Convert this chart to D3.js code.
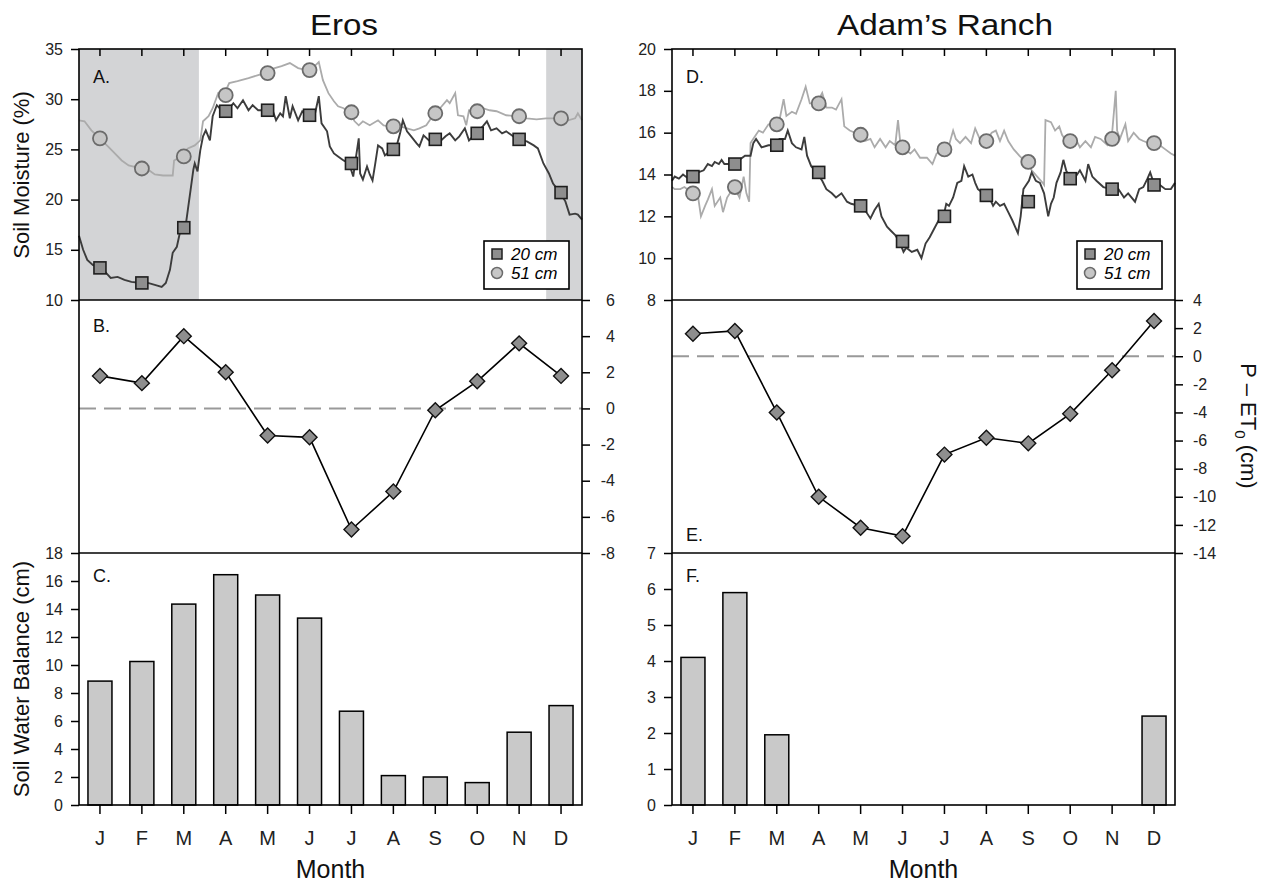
<!DOCTYPE html>
<html>
<head>
<meta charset="utf-8">
<script src="https://cdnjs.cloudflare.com/ajax/libs/d3/7.8.5/d3.min.js"></script>
<style>
  body { margin: 0; background: #fff; }
  svg { font-family: "Liberation Sans", Arial, sans-serif; }
</style>
</head>
<body>
<svg></svg>
<script>
// month labels
let months = ['J','F','M','A','M','J','J','A','S','O','N','D']

// soil moisture (%), [day of year, value]
let erosShallow = [[0,16.4],[3,15.0],[6,14.0],[10,13.5],[15,13.2],[19,12.8],[23,12.2],[28,12.3],[33,12.0],[38,11.8],[45,11.7],[50,11.7],[55,11.5],[60,11.3],[63,11.7],[66,13.0],[68,14.7],[71,15.3],[74,17.2],[77,17.0],[79,19.0],[81,21.0],[83,23.0],[84,23.6],[86,22.8],[88,24.9],[90,26.3],[92,26.9],[95,25.9],[97,28.3],[100,29.4],[104,28.8],[108,28.9],[112,29.6],[115,29.1],[119,29.9],[123,28.9],[126,29.4],[130,28.9],[135,28.9],[140,29.1],[143,27.9],[146,28.6],[148,28.3],[150,30.3],[153,28.1],[155,29.3],[159,27.9],[162,28.8],[165,28.4],[169,28.3],[171,28.4],[174,30.3],[176,27.6],[180,26.8],[182,25.3],[185,24.6],[188,24.3],[192,23.9],[196,23.6],[199,22.3],[200,23.3],[203,26.1],[204,22.6],[206,22.0],[209,23.3],[211,22.5],[213,21.9],[215,23.6],[217,25.4],[220,25.1],[222,24.4],[227,25.0],[231,25.6],[233,26.6],[235,27.9],[238,26.8],[241,26.3],[245,25.6],[247,25.3],[250,26.4],[254,25.9],[258,26.0],[262,25.8],[266,26.3],[269,26.6],[273,25.9],[276,26.3],[280,27.1],[283,25.9],[288,26.6],[293,27.3],[296,27.8],[299,26.9],[303,27.1],[307,26.6],[310,26.8],[314,26.4],[318,26.0],[325,25.8],[330,25.4],[333,25.1],[337,23.6],[341,22.6],[344,21.6],[349,20.7],[353,19.8],[356,18.5],[360,18.6],[362,18.5],[365,18.0]]
let erosDeep = [[0,27.9],[4,27.8],[9,26.9],[15,26.1],[21,25.3],[26,24.6],[31,23.9],[36,23.4],[45,23.1],[50,23.0],[55,22.5],[61,22.4],[68,22.4],[69,23.9],[74,24.3],[79,25.1],[84,25.4],[88,25.9],[90,27.8],[94,28.3],[97,29.1],[101,30.6],[105,30.4],[109,31.6],[115,31.8],[123,32.1],[130,32.4],[135,32.6],[142,33.1],[147,33.3],[153,33.6],[159,33.1],[165,32.9],[171,33.3],[174,33.7],[177,31.9],[181,30.6],[185,29.8],[188,29.3],[192,29.1],[196,28.7],[200,27.8],[203,27.4],[206,27.8],[211,27.4],[217,27.9],[221,27.4],[227,27.3],[233,27.3],[238,27.1],[243,26.9],[247,27.1],[252,27.4],[258,28.6],[262,29.1],[267,29.9],[269,29.6],[273,30.6],[275,28.4],[279,28.3],[281,27.4],[283,28.9],[288,28.8],[293,29.1],[298,28.9],[303,28.8],[310,28.4],[318,28.3],[325,28.1],[332,28.0],[339,28.1],[349,28.1],[355,27.9],[360,28.1],[362,28.6],[365,27.9]]
let adamsShallow = [[0,13.7],[2,13.9],[5,13.8],[8,14.0],[12,13.8],[15,13.9],[19,14.1],[23,14.2],[26,14.5],[29,14.4],[31,14.6],[34,14.5],[36,14.7],[38,14.5],[41,14.5],[45,14.5],[49,14.7],[53,14.9],[57,14.9],[59,15.5],[61,15.7],[65,15.3],[70,15.4],[75,15.4],[78,15.7],[82,15.7],[84,16.1],[87,15.5],[90,15.3],[94,15.2],[96,15.8],[98,14.9],[101,14.4],[105,14.1],[109,13.7],[112,13.3],[116,13.1],[119,12.9],[123,13.1],[127,12.7],[130,12.6],[136,12.5],[140,12.3],[144,11.9],[147,12.3],[150,12.6],[152,12.0],[156,11.5],[159,11.3],[162,11.1],[165,10.8],[168,10.3],[170,10.5],[174,10.3],[178,10.4],[181,10.0],[184,10.7],[187,11.0],[191,11.5],[195,12.0],[197,12.0],[199,12.6],[201,12.5],[204,12.9],[207,13.6],[210,13.7],[212,14.4],[215,13.9],[218,14.0],[220,13.6],[222,13.3],[228,13.0],[231,12.8],[233,12.5],[235,12.7],[238,12.5],[241,12.6],[244,12.2],[247,11.8],[249,11.5],[251,11.2],[253,12.0],[255,13.3],[256,13.4],[259,13.7],[261,14.1],[264,13.7],[267,13.6],[270,13.1],[273,12.0],[275,12.6],[277,12.9],[279,13.6],[282,14.1],[284,14.7],[286,14.2],[289,13.8],[293,13.9],[296,14.2],[300,13.7],[302,14.5],[305,13.9],[308,13.7],[313,13.4],[319,13.3],[324,13.3],[328,12.9],[331,13.1],[336,12.7],[339,13.3],[342,13.4],[345,13.8],[347,14.1],[350,13.5],[354,13.5],[358,13.3],[362,13.3],[365,13.6]]
let adamsDeep = [[0,13.4],[2,13.3],[6,13.3],[9,13.4],[15,13.1],[19,12.9],[21,12.0],[24,12.5],[26,12.8],[29,13.3],[31,12.5],[35,12.9],[37,12.2],[40,12.9],[45,13.4],[49,12.9],[52,13.9],[54,13.1],[56,12.7],[57,15.5],[60,15.8],[63,16.1],[66,16.0],[70,16.4],[75,16.4],[78,16.6],[81,17.6],[83,16.8],[87,17.0],[90,16.9],[94,17.6],[97,18.2],[100,17.4],[105,17.4],[109,17.9],[112,17.2],[116,17.2],[119,17.1],[123,17.6],[125,16.3],[129,16.1],[136,15.9],[140,15.6],[144,15.7],[147,15.3],[151,15.7],[155,15.3],[158,15.6],[162,15.4],[164,16.6],[166,15.3],[169,15.2],[173,15.0],[176,15.2],[180,14.8],[185,14.8],[189,14.5],[192,15.0],[197,15.2],[201,15.4],[204,16.1],[206,15.7],[209,15.5],[213,15.8],[217,15.5],[220,16.2],[224,15.6],[228,15.6],[232,16.0],[235,16.1],[238,15.6],[241,16.1],[244,15.6],[248,15.2],[252,14.9],[255,14.7],[258,14.6],[261,14.2],[265,13.9],[269,13.6],[270,13.5],[271,16.6],[275,16.5],[278,16.1],[281,16.3],[283,15.9],[285,15.7],[289,15.6],[293,15.7],[296,15.3],[300,15.6],[304,15.3],[307,15.8],[311,15.7],[316,15.4],[319,15.7],[322,18.0],[323,16.1],[325,15.7],[329,16.4],[331,15.6],[335,16.0],[339,15.7],[342,15.6],[346,15.5],[350,15.5],[354,15.4],[358,15.2],[362,15.0],[365,14.9]]

// monthly means shown as markers
let erosShallowMonthly = [13.2, 11.7, 17.2, 28.8, 28.9, 28.4, 23.6, 25.0, 26.0, 26.6, 26.0, 20.7]
let erosDeepMonthly = [26.1, 23.1, 24.3, 30.4, 32.6, 32.9, 28.7, 27.3, 28.6, 28.8, 28.3, 28.1]
let adamsShallowMonthly = [13.9, 14.5, 15.4, 14.1, 12.5, 10.8, 12.0, 13.0, 12.7, 13.8, 13.3, 13.5]
let adamsDeepMonthly = [13.1, 13.4, 16.4, 17.4, 15.9, 15.3, 15.2, 15.6, 14.6, 15.6, 15.7, 15.5]

// dormant period shading (day of year)
let erosDormant = [[0, 87], [339, 365]]
let adamsDormant = []

// P - ET0 (cm)
let erosPET = [1.8, 1.4, 4.0, 2.0, -1.5, -1.6, -6.7, -4.6, -0.1, 1.5, 3.6, 1.8]
let adamsPET = [1.6, 1.8, -4.0, -10.0, -12.2, -12.8, -7.0, -5.8, -6.2, -4.1, -1.0, 2.5]

// soil water balance (cm)
let erosSWB = [8.85, 10.25, 14.35, 16.45, 15.0, 13.35, 6.7, 2.1, 2.0, 1.6, 5.2, 7.1]
let adamsSWB = [4.1, 5.9, 1.95, 0, 0, 0, 0, 0, 0, 0, 0, 2.47]

let width = 1265
let height = 884
let yTop = 49
let mid1 = 300
let mid2 = 553
let yBottom = 805

let svg = d3.select('svg').attr('width', width).attr('height', height)

let plain = (d) => String(d)

let styleAxis = (g, size) => {
    g.selectAll('.tick line').attr('stroke', '#000').attr('stroke-width', 1.5)
    g.selectAll('.tick text').attr('fill', '#222').style('font-size', size + 'px')
    g.select('.domain').remove()
}

let drawSite = (s) => {
    let xt = d3.scaleLinear().domain([0, 365]).range([s.x0, s.x1])
    let xb = d3.scaleBand().domain(d3.range(12)).range([s.x0, s.x1])
    let xm = (i) => xb(i) + xb.bandwidth() / 2
    let ySM = d3.scaleLinear().domain(s.smDomain).range([mid1, yTop])
    let yPET = d3.scaleLinear().domain(s.petDomain).range([mid2, mid1])
    let ySWB = d3.scaleLinear().domain(s.swbDomain).range([yBottom, mid2])
    let g = svg.append('g')

    // shading
    g.selectAll('.shade')
        .data(s.dormant)
        .enter()
        .append('rect')
        .attr('x', d => xt(d[0]))
        .attr('width', d => xt(d[1]) - xt(d[0]))
        .attr('y', yTop)
        .attr('height', mid1 - yTop)
        .attr('fill', '#d3d4d6')

    // soil moisture lines
    let line = d3.line().x(d => xt(d[0])).y(d => ySM(d[1]))
    g.append('path').datum(s.deep).attr('d', line)
        .attr('fill', 'none').attr('stroke', '#ababab').attr('stroke-width', 1.8)
    g.append('path').datum(s.shallow).attr('d', line)
        .attr('fill', 'none').attr('stroke', '#3c3c3c').attr('stroke-width', 1.9)

    g.selectAll('.deepPt')
        .data(s.deepMonthly)
        .enter()
        .append('circle')
        .attr('cx', (d, i) => xm(i))
        .attr('cy', d => ySM(d))
        .attr('r', 7)
        .attr('fill', '#c6c6c6')
        .attr('stroke', '#6b6b6b')
        .attr('stroke-width', 1.8)
    g.selectAll('.shallowPt')
        .data(s.shallowMonthly)
        .enter()
        .append('rect')
        .attr('x', (d, i) => xm(i) - 6)
        .attr('y', d => ySM(d) - 6)
        .attr('width', 12)
        .attr('height', 12)
        .attr('fill', '#8e8e8e')
        .attr('stroke', '#1e1e1e')
        .attr('stroke-width', 1.6)

    // legend
    let lx = s.x1 - 98
    let lg = g.append('g')
    lg.append('rect').attr('x', lx).attr('y', 241).attr('width', 85).attr('height', 48)
        .attr('fill', '#fff').attr('stroke', '#000').attr('stroke-width', 1.6)
    lg.append('rect').attr('x', lx + 8).attr('y', 249).attr('width', 10).attr('height', 10)
        .attr('fill', '#8e8e8e').attr('stroke', '#1e1e1e').attr('stroke-width', 1.5)
    lg.append('circle').attr('cx', lx + 13).attr('cy', 273).attr('r', 5.5)
        .attr('fill', '#c6c6c6').attr('stroke', '#6b6b6b').attr('stroke-width', 1.5)
    lg.append('text').attr('x', lx + 27).attr('y', 254).attr('dy', '0.35em')
        .style('font-size', '17px').style('font-style', 'italic').text('20 cm')
    lg.append('text').attr('x', lx + 27).attr('y', 273).attr('dy', '0.35em')
        .style('font-size', '17px').style('font-style', 'italic').text('51 cm')

    // P - ET0
    g.append('line')
        .attr('x1', s.x0).attr('x2', s.x1)
        .attr('y1', yPET(0)).attr('y2', yPET(0))
        .attr('stroke', '#999').attr('stroke-width', 2).attr('stroke-dasharray', '17,8')
    g.append('path').datum(s.pet)
        .attr('d', d3.line().x((d, i) => xm(i)).y(d => yPET(d)))
        .attr('fill', 'none').attr('stroke', '#000').attr('stroke-width', 1.6)
    g.selectAll('.dia')
        .data(s.pet)
        .enter()
        .append('path')
        .attr('d', d3.symbol(d3.symbolSquare, 112))
        .attr('transform', (d, i) => 'translate(' + xm(i) + ',' + yPET(d) + ') rotate(45)')
        .attr('fill', '#8e8e8e')
        .attr('stroke', '#111')
        .attr('stroke-width', 1.4)

    // soil water balance bars
    g.selectAll('.bar')
        .data(s.swb.map((v, i) => ({ v: v, i: i })).filter(d => d.v > 0))
        .enter()
        .append('rect')
        .attr('x', d => xm(d.i) - 12)
        .attr('width', 24)
        .attr('y', d => ySWB(d.v))
        .attr('height', d => ySWB(0) - ySWB(d.v))
        .attr('fill', '#c9c9c9')
        .attr('stroke', '#000')
        .attr('stroke-width', 1.5)

    // frame
    g.append('rect').attr('x', s.x0).attr('y', yTop)
        .attr('width', s.x1 - s.x0).attr('height', yBottom - yTop)
        .attr('fill', 'none').attr('stroke', '#000').attr('stroke-width', 1.6)
    ;[mid1, mid2].forEach(y => {
        g.append('line').attr('x1', s.x0).attr('x2', s.x1).attr('y1', y).attr('y2', y)
            .attr('stroke', '#000').attr('stroke-width', 1.6)
    })

    // axes
    let smAxis = g.append('g').attr('transform', 'translate(' + s.x0 + ',0)')
        .call(d3.axisLeft(ySM).tickValues(s.smTicks).tickSize(8).tickPadding(8).tickFormat(plain))
    styleAxis(smAxis, 16)
    let swbAxis = g.append('g').attr('transform', 'translate(' + s.x0 + ',0)')
        .call(d3.axisLeft(ySWB).tickValues(s.swbTicks).tickSize(8).tickPadding(8).tickFormat(plain))
    styleAxis(swbAxis, 16)
    let petAxis = g.append('g').attr('transform', 'translate(' + s.x1 + ',0)')
        .call(d3.axisRight(yPET).tickValues(s.petTicks).tickSize(8).tickPadding(10).tickFormat(plain))
    styleAxis(petAxis, 16)
    if (s.petAlignEnd) {
        petAxis.selectAll('.tick text').attr('x', 33).attr('text-anchor', 'end')
    }
    let topAxis = g.append('g').attr('transform', 'translate(0,' + yTop + ')')
        .call(d3.axisBottom(xb).tickSize(7).tickFormat(''))
    styleAxis(topAxis, 16)
    let monthAxis = g.append('g').attr('transform', 'translate(0,' + yBottom + ')')
        .call(d3.axisBottom(xb).tickSize(9).tickPadding(17).tickFormat(i => months[i]))
    styleAxis(monthAxis, 20)

    // texts
    g.append('text').attr('x', s.titleX).attr('y', 35).attr('text-anchor', 'middle')
        .attr('textLength', s.titleLength).attr('lengthAdjust', 'spacingAndGlyphs')
        .style('font-size', '29px').attr('fill', '#111').text(s.title)
    g.append('text').attr('x', (s.x0 + s.x1) / 2).attr('y', 878).attr('text-anchor', 'middle')
        .style('font-size', '25px').attr('fill', '#111').text('Month')
    s.letters.forEach((t, i) => {
        g.append('text').attr('x', s.x0 + 14).attr('y', s.letterY[i])
            .style('font-size', '18px').attr('fill', '#111').text(t)
    })
}

drawSite({
    x0: 79, x1: 582, title: 'Eros', titleX: 344, titleLength: 68,
    letters: ['A.', 'B.', 'C.'], letterY: [83, 332, 582],
    smDomain: [10, 35], smTicks: [10, 15, 20, 25, 30, 35],
    shallow: erosShallow, deep: erosDeep,
    shallowMonthly: erosShallowMonthly, deepMonthly: erosDeepMonthly,
    dormant: erosDormant,
    pet: erosPET, petDomain: [-8, 6], petTicks: [-8, -6, -4, -2, 0, 2, 4, 6], petAlignEnd: true,
    swb: erosSWB, swbDomain: [0, 18], swbTicks: [0, 2, 4, 6, 8, 10, 12, 14, 16, 18]
})

drawSite({
    x0: 672, x1: 1175, title: 'Adam\u2019s Ranch', titleX: 945, titleLength: 216,
    letters: ['D.', 'E.', 'F.'], letterY: [83, 541, 582],
    smDomain: [8, 20], smTicks: [8, 10, 12, 14, 16, 18, 20],
    shallow: adamsShallow, deep: adamsDeep,
    shallowMonthly: adamsShallowMonthly, deepMonthly: adamsDeepMonthly,
    dormant: adamsDormant,
    pet: adamsPET, petDomain: [-14, 4], petTicks: [-14, -12, -10, -8, -6, -4, -2, 0, 2, 4], petAlignEnd: false,
    swb: adamsSWB, swbDomain: [0, 7], swbTicks: [0, 1, 2, 3, 4, 5, 6, 7]
})

// axis titles
svg.append('text')
    .attr('transform', 'translate(29,175) rotate(-90)')
    .attr('text-anchor', 'middle')
    .style('font-size', '22px').attr('fill', '#111')
    .text('Soil Moisture (%)')
svg.append('text')
    .attr('transform', 'translate(29,679) rotate(-90)')
    .attr('text-anchor', 'middle')
    .style('font-size', '22px').attr('fill', '#111')
    .text('Soil Water Balance (cm)')

let petLabel = svg.append('text')
    .attr('transform', 'translate(1241,426) rotate(90)')
    .attr('text-anchor', 'middle')
    .style('font-size', '22px').attr('fill', '#111')
petLabel.append('tspan').text('P \u2013 ET')
petLabel.append('tspan').attr('dy', 6).style('font-size', '15px').text('0')
petLabel.append('tspan').attr('dy', -6).text(' (cm)')
</script>
</body>
</html>
